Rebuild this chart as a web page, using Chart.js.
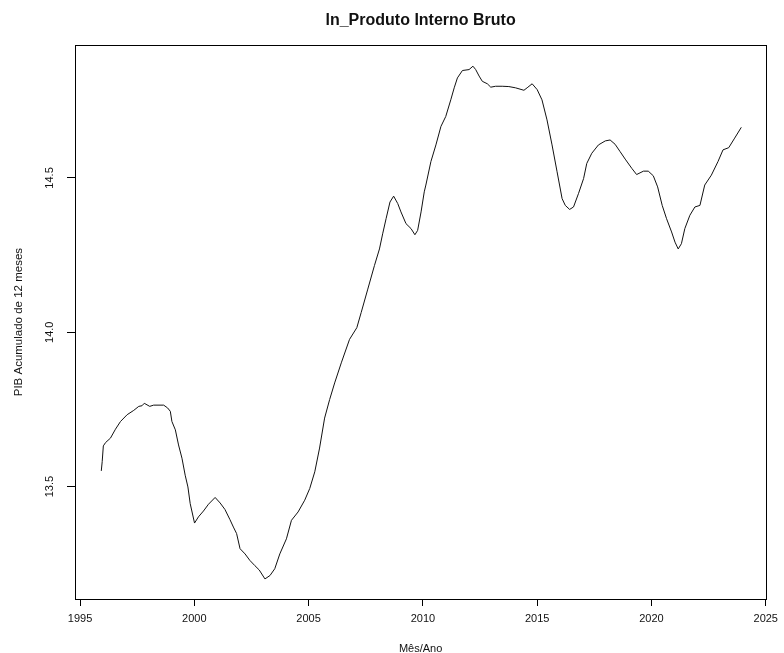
<!DOCTYPE html>
<html>
<head>
<meta charset="utf-8">
<script src="https://cdn.jsdelivr.net/npm/chart.js@4"></script>
<style>
html,body{margin:0;padding:0;background:#fff;}
#wrap{width:784px;height:653px;}
</style>
</head>
<body>
<div id="wrap"><canvas id="c" width="784" height="653"></canvas></div>
<script>
const chartTitle = "ln_Produto Interno Bruto";
const xTitle = "Mês/Ano";
const yTitle = "PIB Acumulado de 12 meses";
const xTicks = [1995, 2000, 2005, 2010, 2015, 2020, 2025];
const yTicks = [13.5, 14.0, 14.5];

const years = [
  1995.93, 1995.97, 1996.02, 1996.12, 1996.33, 1996.55, 1996.77, 1997.06, 1997.35, 1997.57,
  1997.71, 1997.81, 1998.05, 1998.22, 1998.66, 1998.83, 1998.95, 1999.02, 1999.17, 1999.31,
  1999.46, 1999.60, 1999.72, 1999.82, 2000.01, 2000.18, 2000.40, 2000.62, 2000.91, 2001.13,
  2001.34, 2001.56, 2001.71, 2001.85, 2002.00, 2002.22, 2002.43, 2002.65, 2002.84, 2003.09,
  2003.31, 2003.52, 2003.74, 2004.03, 2004.25, 2004.54, 2004.83, 2005.05, 2005.27, 2005.48,
  2005.70, 2005.92, 2006.14, 2006.43, 2006.79, 2007.11, 2007.30, 2007.59, 2007.88, 2008.10,
  2008.24, 2008.39, 2008.56, 2008.72, 2008.90, 2009.04, 2009.26, 2009.48, 2009.65, 2009.77,
  2009.92, 2010.06, 2010.13, 2010.35, 2010.57, 2010.79, 2011.00, 2011.22, 2011.37, 2011.51,
  2011.73, 2012.02, 2012.19, 2012.31, 2012.46, 2012.60, 2012.82, 2012.97, 2013.18, 2013.47,
  2013.76, 2014.05, 2014.42, 2014.56, 2014.78, 2015.00, 2015.21, 2015.43, 2015.65, 2015.87,
  2016.09, 2016.23, 2016.42, 2016.59, 2016.81, 2017.03, 2017.17, 2017.39, 2017.68, 2017.98,
  2018.19, 2018.41, 2018.63, 2018.85, 2019.14, 2019.35, 2019.65, 2019.86, 2020.08, 2020.27,
  2020.47, 2020.66, 2020.88, 2021.03, 2021.17, 2021.31, 2021.46, 2021.68, 2021.90, 2022.12,
  2022.33, 2022.62, 2022.91, 2023.13, 2023.38, 2023.64, 2023.93
];
const values = [
  13.551, 13.581, 13.632, 13.643, 13.657, 13.686, 13.711, 13.733, 13.747, 13.760,
  13.762, 13.770, 13.760, 13.764, 13.764, 13.755, 13.744, 13.711, 13.684, 13.635,
  13.592, 13.537, 13.499, 13.445, 13.382, 13.402, 13.421, 13.443, 13.465, 13.447,
  13.426, 13.393, 13.369, 13.348, 13.299, 13.282, 13.261, 13.244, 13.230, 13.201,
  13.212, 13.234, 13.282, 13.331, 13.391, 13.418, 13.456, 13.494, 13.548, 13.625,
  13.722, 13.782, 13.836, 13.901, 13.977, 14.015, 14.064, 14.140, 14.216, 14.270,
  14.319, 14.368, 14.422, 14.441, 14.417, 14.390, 14.352, 14.336, 14.316, 14.330,
  14.390, 14.455, 14.477, 14.553, 14.607, 14.667, 14.699, 14.753, 14.792, 14.824,
  14.848, 14.851, 14.862, 14.851, 14.830, 14.813, 14.805, 14.794, 14.797, 14.797,
  14.796, 14.792, 14.784, 14.792, 14.805, 14.786, 14.753, 14.688, 14.607, 14.520,
  14.433, 14.411, 14.398, 14.406, 14.450, 14.498, 14.547, 14.580, 14.607, 14.620,
  14.623, 14.609, 14.585, 14.561, 14.531, 14.511, 14.522, 14.522, 14.507, 14.471,
  14.411, 14.368, 14.325, 14.292, 14.270, 14.287, 14.336, 14.379, 14.406, 14.411,
  14.477, 14.509, 14.553, 14.591, 14.598, 14.629, 14.664
];

const FONT = "'Liberation Sans', Arial, Helvetica, sans-serif";
const INK = '#111111';

const boxPlugin = {
  id: 'box',
  afterLayout(chart) {
    const t = chart.titleBlock, a = chart.chartArea;
    if (t && a) { t.left = a.left; t.right = a.right; t.width = a.right - a.left; }
  },
  afterDraw(chart) {
    const a = chart.chartArea, ctx = chart.ctx;
    ctx.save();
    ctx.strokeStyle = '#000';
    ctx.lineWidth = 1;
    ctx.strokeRect(Math.round(a.left) + 0.5, Math.round(a.top) + 0.5,
                   Math.round(a.right - a.left), Math.round(a.bottom - a.top));
    ctx.restore();
  }
};

new Chart(document.getElementById('c'), {
  type: 'line',
  data: {
    datasets: [{
      data: years.map((x, i) => ({ x: x, y: values[i] })),
      borderColor: '#111111',
      borderWidth: 1,
      pointRadius: 0,
      tension: 0,
      fill: false
    }]
  },
  options: {
    responsive: false,
    animation: false,
    devicePixelRatio: 1,
    layout: { padding: { left: 0, right: 15, top: 0, bottom: 0 } },
    plugins: {
      legend: { display: false },
      tooltip: { enabled: false },
      title: {
        display: true,
        text: chartTitle,
        color: INK,
        font: { family: FONT, size: 16, weight: 'bold', lineHeight: 1.2 },
        padding: { top: 11, bottom: 15 }
      }
    },
    scales: {
      x: {
        type: 'linear',
        min: 1994.78,
        max: 2025.02,
        afterBuildTicks: s => { s.ticks = xTicks.map(v => ({ value: v })); },
        afterFit: s => { s.height = 54; },
        grid: { drawOnChartArea: false, drawTicks: true, tickLength: 7, color: '#000', tickWidth: 1 },
        border: { display: true, color: '#000', width: 1 },
        ticks: {
          color: INK, font: { family: FONT, size: 11 }, padding: 6,
          maxRotation: 0, minRotation: 0, autoSkip: false,
          callback: v => String(v)
        },
        title: {
          display: true, text: xTitle, color: INK,
          font: { family: FONT, size: 11, lineHeight: 0.8 },
          padding: { top: 0, bottom: 0 }
        }
      },
      y: {
        type: 'linear',
        min: 13.136,
        max: 14.93,
        afterBuildTicks: s => { s.ticks = yTicks.map(v => ({ value: v })); },
        afterFit: s => { s.width = 75; },
        grid: { drawOnChartArea: false, drawTicks: true, tickLength: 8, color: '#000', tickWidth: 1 },
        border: { display: true, color: '#000', width: 1 },
        ticks: {
          color: INK, font: { family: FONT, size: 11 }, padding: 6,
          minRotation: 90, maxRotation: 90, crossAlign: 'center', autoSkip: false,
          callback: v => Number(v).toFixed(1)
        },
        title: {
          display: true, text: yTitle, color: INK,
          font: { family: FONT, size: 11.5, lineHeight: 1.2 },
          padding: { top: 12, bottom: 0 }
        }
      }
    }
  },
  plugins: [boxPlugin]
});
</script>
</body>
</html>
